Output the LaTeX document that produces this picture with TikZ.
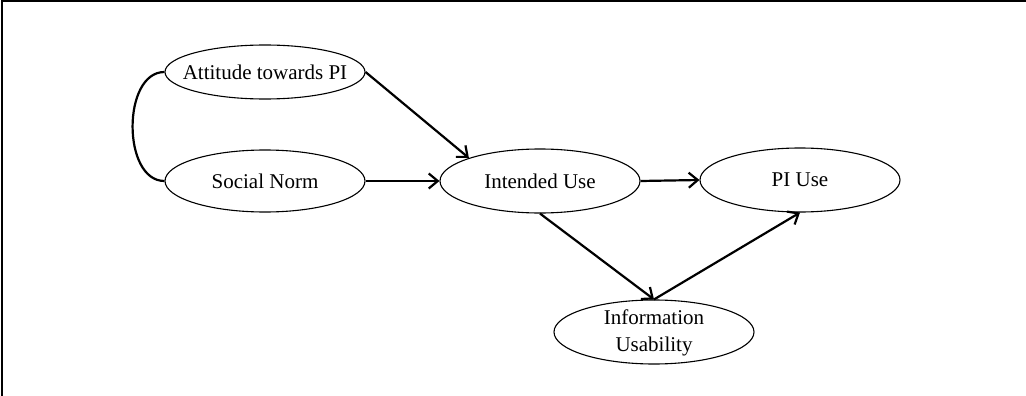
\documentclass[tikz,border=0pt]{standalone}
\usepackage{fontspec}
\setmainfont{Liberation Serif}
\usetikzlibrary{shapes.geometric,arrows.meta}
\newcommand{\flatlbl}[1]{\makebox[0pt][c]{#1}}
\newcommand{\flatpair}[2]{\smash{\raisebox{-6pt}{\makebox[0pt][c]{\begin{tabular}{@{}c@{}}#1\\[1pt]#2\end{tabular}}}}}
\begin{document}
\begin{tikzpicture}[x=1pt,y=-1pt,
  construct/.style={draw,ellipse,line width=1.1pt,minimum width=200pt,minimum height=64pt,inner sep=0pt,
    font=\fontsize{21}{26}\selectfont},
  link/.style={line width=2.2pt,-{Straight Barb[length=9pt,width=15pt,line width=2.2pt]}},
  corr/.style={line width=2.2pt}]
\useasboundingbox (0,0) rectangle (1026,396);
\draw[line width=2pt] (2,396) -- (2,1.5) -- (1026,1.5);
\node[construct,minimum height=54pt] (att) at (265,72) {\flatlbl{Attitude towards PI}};
\node[construct,minimum height=62pt] (soc) at (265,181) {\flatlbl{Social Norm}};
\node[construct] (int) at (540,181) {\flatlbl{Intended Use}};
\node[construct] (pi) at (800,180) {\flatlbl{PI Use}};
\node[construct] (info) at (654,332) {\flatpair{Information}{Usability}};
\draw[corr] (att.west) to[out=180,in=180,looseness=1] (soc.west);
\draw[link] (att.east) -- (int.north west);
\draw[link] (soc.east) -- (int.west);
\draw[link] (int.east) -- (pi.west);
\draw[link] (int.south) -- (info.north);
\draw[link] (info.north) -- (pi.south);
\end{tikzpicture}
\end{document}
